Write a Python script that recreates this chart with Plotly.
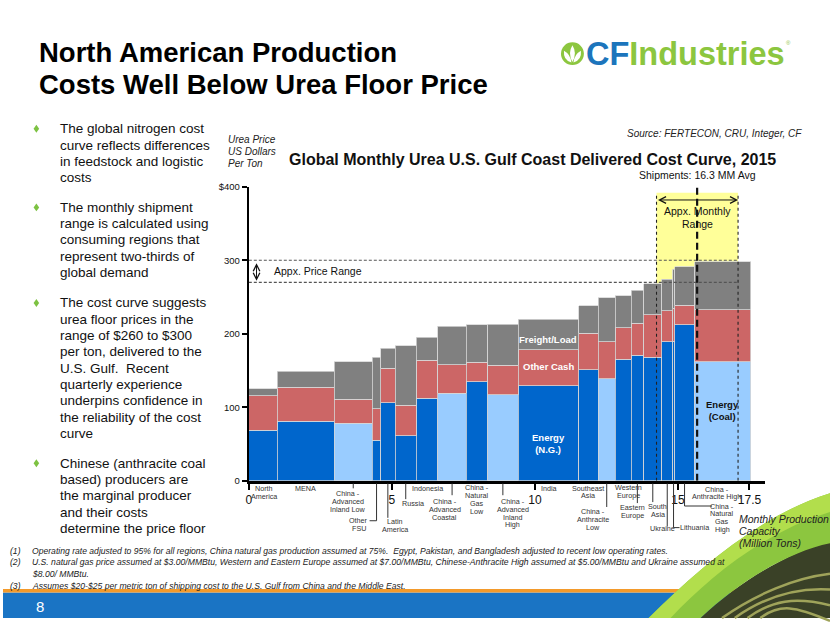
import plotly.graph_objects as go

# ---------------- data ----------------
regions = ["North\nAmerica", "MENA", "China -\nAdvanced\nInland Low", "Other\nFSU", "Latin\nAmerica",
           "Russia", "Indonesia", "China -\nAdvanced\nCoastal", "China -\nNatural\nGas\nLow",
           "China -\nAdvanced\nInland\nHigh", "India", "Southeast\nAsia", "China -\nAnthracite\nLow",
           "Western\nEurope", "Eastern\nEurope", "South\nAsia", "Ukraine", "Lithuania",
           "China -\nNatural\nGas\nHigh", "China -\nAnthracite High"]
capacity = [0.99, 1.99, 1.34, 0.29, 0.50, 0.75, 0.75, 0.99, 0.75, 1.06,
            2.12, 0.69, 0.58, 0.56, 0.44, 0.64, 0.37, 0.07, 0.70, 1.96]
energy = [69, 81, 78, 55, 106, 61, 112, 119, 135, 117,
          129, 151, 139, 165, 171, 168, 189, 190, 212, 162]
other_cash = [47, 46, 33, 43, 47, 42, 52, 39, 26, 40,
              49, 50, 50, 43, 43, 58, 42, 45, 27, 71]
freight = [9, 22, 51, 70, 27, 81, 31, 52, 51, 56,
           42, 37, 60, 44, 45, 42, 43, 53, 52, 65]
fuel = ["NG", "NG", "Coal", "NG", "NG", "NG", "NG", "Coal", "NG", "Coal",
        "NG", "NG", "Coal", "NG", "NG", "NG", "NG", "NG", "NG", "Coal"]
x_ticks = [0, 5, 10, 15, 17.5]
x_ticktext = ["0", "5", "10", "15", "17.5"]
y_ticks = [0, 100, 200, 300, 400]
y_ticktext = ["0", "100", "200", "300", "$400"]
price_low, price_high = 270, 300
monthly_range = [14.25, 17.1]
shipments_avg_pos = 15.67

bullets = [
    ["The global nitrogen cost", "curve reflects differences", "in feedstock and logistic", "costs"],
    ["The monthly shipment", "range is calculated using", "consuming regions that", "represent two-thirds of", "global demand"],
    ["The cost curve suggests", "urea floor prices in the", "range of $260 to $300", "per ton, delivered to the",
     "U.S. Gulf.  Recent", "quarterly experience", "underpins confidence in", "the reliability of the cost", "curve"],
    ["Chinese (anthracite coal", "based) producers are", "the marginal producer", "and their costs", "determine the price floor"],
]
footnotes = [
    ("(1)", "Operating rate adjusted to 95% for all regions, China natural gas production assumed at 75%.  Egypt, Pakistan, and Bangladesh adjusted to recent low operating rates."),
    ("(2)", "U.S. natural gas price assumed at $3.00/MMBtu, Western and Eastern Europe assumed at $7.00/MMBtu, Chinese-Anthracite High assumed at $5.00/MMBtu and Ukraine assumed at"),
    ("", "$8.00/ MMBtu."),
    ("(3)", "Assumes $20-$25 per metric ton of shipping cost to the U.S. Gulf from China and the Middle East."),
]

# ---------------- layout helpers ----------------
W, H = 830, 623
X0, X1, XMAX = 246.7, 765.0, 18.05
YB, YT = 483.3, 184.0
FONT = "Liberation Sans, Arial, sans-serif"

def px(x):
    return x / W

def py(y):
    return 1 - y / H

def path(points, close=True):
    s = "M " + " L ".join(f"{px(x):.5f},{py(y):.5f}" for x, y in points)
    return s + (" Z" if close else "")

def cpath(cmds, close=True):
    out = []
    for c in cmds:
        op, pts = c[0], c[1:]
        out.append(op + " " + " ".join(f"{px(x):.5f},{py(y):.5f}" for x, y in pts))
    return " ".join(out) + (" Z" if close else "")

lefts = []
acc = 0.0
for w in capacity:
    lefts.append(acc)
    acc += w
mids = [l + w / 2 for l, w in zip(lefts, capacity)]
ecolors = ["#0066CC" if f == "NG" else "#99CCFF" for f in fuel]
edge = dict(color="#d6d6d6", width=0.8)

fig = go.Figure()
fig.add_trace(go.Bar(x=mids, y=energy, width=capacity, marker=dict(color=ecolors, line=edge), name="Energy"))
fig.add_trace(go.Bar(x=mids, y=other_cash, width=capacity, marker=dict(color="#CC6666", line=edge), name="Other Cash"))
fig.add_trace(go.Bar(x=mids, y=freight, width=capacity, marker=dict(color="#808080", line=edge), name="Freight/Load"))

shapes = []
ann = []

def text(x, y, s, size, color="#000", anchor="left", xref="paper", yref="paper", bold=False, italic=False, yanchor="middle", xshift=0):
    if bold:
        s = f"<b>{s}</b>"
    if italic:
        s = f"<i>{s}</i>"
    ann.append(dict(x=x, y=y, xref=xref, yref=yref, text=s, showarrow=False, xanchor=anchor, yanchor=yanchor,
                    xshift=xshift, font=dict(family=FONT, size=size, color=color)))

# yellow monthly range box (behind bars)
shapes.append(dict(type="rect", xref="x", yref="y", x0=monthly_range[0], x1=monthly_range[1], y0=0, y1=392,
                   fillcolor="#FFFF99", line=dict(width=0), layer="below"))
# price range dashed lines
for v in (price_low, price_high):
    shapes.append(dict(type="line", xref="x", yref="y", x0=0, x1=monthly_range[1], y0=v, y1=v,
                       line=dict(color="#555", width=1.2, dash="3px,2px")))
# monthly range dotted verticals
for v in monthly_range:
    shapes.append(dict(type="line", xref="x", yref="y", x0=v, x1=v, y0=0, y1=392,
                       line=dict(color="#222", width=1.1, dash="dot")))
# shipments average line
shapes.append(dict(type="line", xref="x", yref="y", x0=shipments_avg_pos, x1=shipments_avg_pos, y0=0, y1=399,
                   line=dict(color="#111", width=2.2, dash="7px,4px")))

# arrows
ann.append(dict(x=monthly_range[1], y=382, ax=monthly_range[0], ay=382, xref="x", yref="y", axref="x", ayref="y",
                text="", showarrow=True, arrowside="end+start", arrowhead=5, startarrowhead=5,
                arrowwidth=1, arrowcolor="#111", arrowsize=1.3, startarrowsize=1.3))
ann.append(dict(x=0.27, y=price_low + 2, ax=0.27, ay=price_high - 2, xref="x", yref="y", axref="x", ayref="y",
                text="", showarrow=True, arrowside="end+start", arrowhead=5, startarrowhead=5,
                arrowwidth=1, arrowcolor="#111", arrowsize=1.3, startarrowsize=1.3))
text(0.8, (price_low + price_high) / 2, "Appx. Price Range", 10.5, "#111", xref="x", yref="y")
text((monthly_range[0] + monthly_range[1]) / 2, 366.5, "Appx. Monthly", 10.5, "#111", anchor="center", xref="x", yref="y")
text((monthly_range[0] + monthly_range[1]) / 2, 349.5, "Range", 10.5, "#111", anchor="center", xref="x", yref="y")
text(shipments_avg_pos, py(172.5), "Shipments: 16.3 MM Avg", 10.5, "#111", anchor="center", xref="x")

# in-bar labels
text(mids[10], 192, "Freight/Load", 9.5, "white", anchor="center", xref="x", yref="y", bold=True)
text(mids[10], 155, "Other Cash", 9.5, "white", anchor="center", xref="x", yref="y", bold=True)
text(mids[10], 51, "<b>Energy</b><br><b>(N.G.)</b>", 9.5, "white", anchor="center", xref="x", yref="y")
text(mids[19], 96, "<b>Energy</b><br><b>(Coal)</b>", 9.5, "#111", anchor="center", xref="x", yref="y")

# region labels under axis (dx px, first-line y px, leader)
label_pos = [(1, 491.5, None), (0, 491, None), (-5, 496, ("v", 491)), (-18, 524, ("vh", 524, -7)),
             (7, 525, ("v", 521)), (7.5, 506.7, ("v", 502)), (0, 490.7, None), (-7.5, 504, ("v", 498)),
             (0, 490, None), (10, 504, ("v", 498)), (1, 490.7, None), (-1, 490.7, None),
             (-14, 515, ("v", 510)), (5, 490, None), (-5, 511, ("v", 506)), (5, 510, ("v", 505)),
             (-5, 531.7, ("v", 530)), (21, 531, ("vh", 531, 6)), (37.6, 509, ("vh", 509, 27.6)), (-6, 491.7, None)]
pxu = (X1 - X0) / XMAX
for i, (lab, (dx, y0, lead)) in enumerate(zip(regions, label_pos)):
    for j, line in enumerate(lab.split("\n")):
        text(mids[i], py(y0 + j * 8.1), line, 7.2, "#333", anchor="center", xref="x", xshift=dx)
    if lead:
        mx = X0 + mids[i] * pxu
        shapes.append(dict(type="line", xref="paper", yref="paper", x0=px(mx), x1=px(mx), y0=py(486), y1=py(lead[1]),
                           line=dict(color="#333", width=1)))
        if lead[0] == "vh":
            shapes.append(dict(type="line", xref="paper", yref="paper", x0=px(mx), x1=px(mx + lead[2]),
                               y0=py(lead[1]), y1=py(lead[1]), line=dict(color="#333", width=1)))

# axis titles / chart texts
for j, s in enumerate(["Urea Price", "US Dollars", "Per Ton"]):
    text(px(224), py(136 + j * 12), s, 10, "#222", italic=True)
text(px(531), py(156), "Global Monthly Urea U.S. Gulf Coast Delivered Cost Curve, 2015", 16, "#111", anchor="center", bold=True)
text(px(804), py(130), "Source: FERTECON, CRU, Integer, CF", 10, "#222", anchor="right", italic=True)
for j, s in enumerate(["Monthly Production", "Capacity", "(Million Tons)"]):
    text(px(737), py(522 + j * 12.5), s, 10.5, "#222", italic=True)

# slide title
text(px(34), py(47), "North American Production", 27.5, "#000", bold=True)
text(px(34), py(80), "Costs Well Below Urea Floor Price", 27.5, "#000", bold=True)

# bullets
bullet_y = [125, 205, 302.3, 465.5]
for b, y0 in zip(bullets, bullet_y):
    cx, cy = 33.5, y0
    shapes.append(dict(type="path", xref="paper", yref="paper",
                       path=path([(cx, cy - 4), (cx + 2.8, cy), (cx, cy + 4), (cx - 2.8, cy)]),
                       fillcolor="#7DC242", line=dict(width=0)))
    for j, line in enumerate(b):
        text(px(55), py(y0 + j * 16.6), line, 13.5, "#111")

# footnotes
for j, (num, s) in enumerate(footnotes):
    y = 554.5 + j * 12
    if num:
        text(px(5), py(y), num, 8.6, "#222", italic=True)
    text(px(27), py(y), s, 8.6, "#222", italic=True)

# bottom band
shapes.append(dict(type="rect", xref="paper", yref="paper", x0=0, x1=1, y0=0, y1=py(597),
                   fillcolor="#1A74C4", line=dict(width=0)))
shapes.append(dict(type="rect", xref="paper", yref="paper", x0=0, x1=1, y0=py(597), y1=py(593.5),
                   fillcolor="#F39A2B", line=dict(width=0)))
text(px(37), py(611), "8", 15, "white", anchor="center")

# green swoosh and dark grass corner
shapes.append(dict(type="path", xref="paper", yref="paper",
                   path=cpath([("M", (700, 623)), ("C", (740, 585), (790, 555), (830, 545)), ("L", (830, 623))]),
                   fillcolor="#3A4127", line=dict(width=0)))
for k in range(4):
    off = 12 + k * 16
    shapes.append(dict(type="path", xref="paper", yref="paper",
                       path=cpath([("M", (712 + off * 0.8, 623)),
                                   ("C", (750 + off * 0.5, 596 + off * 0.2), (795, 575 + off * 0.6), (830, 566 + off))],
                                  close=False),
                       line=dict(color="#9FA35A", width=2.5)))
shapes.append(dict(type="path", xref="paper", yref="paper",
                   path=cpath([("M", (648, 623)), ("C", (698, 573), (760, 518), (830, 496)),
                               ("L", (830, 547)), ("C", (790, 555), (740, 585), (700, 623))]),
                   fillcolor="#8CC63F", line=dict(width=0)))
shapes.append(dict(type="path", xref="paper", yref="paper",
                   path=cpath([("M", (648, 623)), ("C", (698, 573), (760, 518), (830, 496)),
                               ("L", (830, 515)), ("C", (765, 535), (710, 580), (670, 623))]),
                   fillcolor="#B2DE4C", line=dict(width=0)))

# logo
shapes.append(dict(type="circle", xref="paper", yref="paper", x0=px(560), x1=px(583), y0=py(60), y1=py(37),
                   fillcolor="#8CC63F", line=dict(width=0)))
shapes.append(dict(type="path", xref="paper", yref="paper",
                   path=cpath([("M", (571.5, 57)), ("Q", (566.5, 48), (571.5, 40)), ("Q", (576.5, 48), (571.5, 57))]),
                   fillcolor="white", line=dict(width=0)))
shapes.append(dict(type="path", xref="paper", yref="paper",
                   path=cpath([("M", (570.5, 57.5)), ("Q", (562, 55), (563, 45.5)), ("Q", (569.5, 49), (570.5, 57.5))]),
                   fillcolor="white", line=dict(width=0)))
shapes.append(dict(type="path", xref="paper", yref="paper",
                   path=cpath([("M", (572.5, 57.5)), ("Q", (581, 55), (580, 45.5)), ("Q", (573.5, 49), (572.5, 57.5))]),
                   fillcolor="white", line=dict(width=0)))
text(px(583), py(49), '<span style="color:#1C75BC">CF</span><span style="color:#8CC63F">Industries</span>', 32.5, bold=True)
text(px(788), py(38), "®", 6, "#8CC63F", anchor="center")

fig.update_layout(
    width=W, height=H, autosize=False,
    margin=dict(l=0, r=0, t=0, b=0),
    paper_bgcolor="white", plot_bgcolor="rgba(0,0,0,0)",
    barmode="stack", showlegend=False,
    font=dict(family=FONT, color="#111"),
    shapes=shapes, annotations=ann,
    xaxis=dict(domain=[px(X0), px(X1)], range=[0, XMAX], showgrid=False, zeroline=False,
               showline=True, linecolor="#000", linewidth=2.5,
               tickvals=x_ticks, ticktext=x_ticktext, ticks="outside", ticklen=6, tickwidth=1.5,
               tickcolor="#000", tickfont=dict(size=12, color="#111")),
    yaxis=dict(domain=[py(YB), py(YT)], range=[0, 400], showgrid=False, zeroline=False,
               showline=True, linecolor="#000", linewidth=2,
               tickvals=y_ticks, ticktext=y_ticktext, ticks="outside", ticklen=5, tickwidth=1.5,
               tickcolor="#000", tickfont=dict(size=9.5, color="#111")),
)

fig.write_html("out.html", config={"displayModeBar": False},
               post_script="document.body.style.margin='0';document.body.style.overflow='hidden';")
